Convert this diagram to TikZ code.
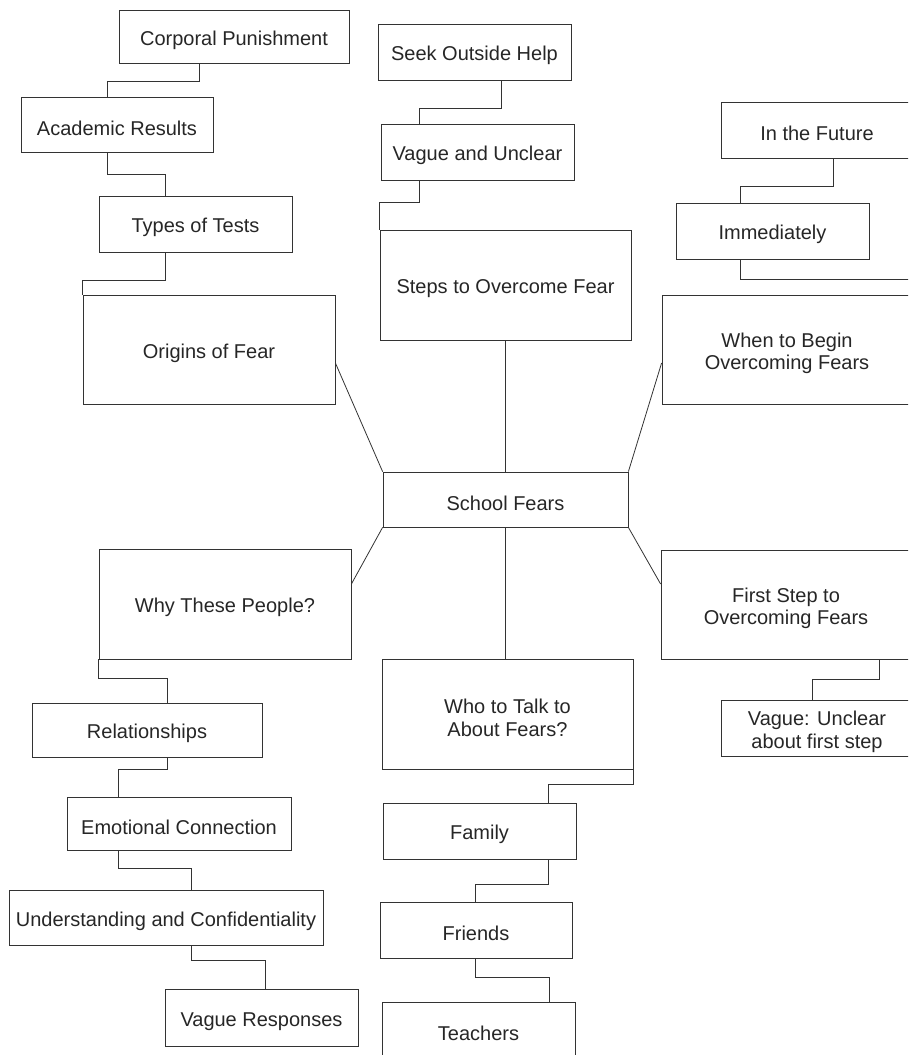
\documentclass[tikz,border=0pt]{standalone}
\usepackage{fontspec}
\setmainfont{Liberation Sans}
\usepackage{tikz}
\usetikzlibrary{positioning}
\newcommand{\boxstrut}{\rule{0pt}{22pt}}

\begin{document}
\begin{tikzpicture}[x=1pt, y=-1pt,
        line width=0.8pt, draw=black!80,
        fearbox/.style={draw=black!80, rectangle, align=center, inner sep=0pt,
            text=black!85, font=\fontsize{20}{22.5}\selectfont,
            execute at begin node={\boxstrut}},
        smallbox/.style={fearbox, minimum width=193pt, minimum height=56pt},
        bigbox/.style={fearbox, minimum width=251pt, minimum height=110pt}]
        \useasboundingbox (0,0) rectangle (908,1055);
        \clip (0,0) rectangle (908,1055);
        % the map is cut off on the right and at the bottom
        \node[smallbox, minimum width=230pt, minimum height=53pt] (corporal) at (234,36.5) {Corporal Punishment};
        \node[smallbox, minimum width=192pt, minimum height=55pt] (academic) at (117,124.5) {Academic Results};
        \node[smallbox] (tests) at (195.5,224) {Types of Tests};
        \node[bigbox, minimum width=252pt, minimum height=109pt] (origins) at (209,349.5) {Origins of Fear};
        \node[smallbox] (seek) at (474.5,52) {Seek Outside Help};
        \node[smallbox] (vague) at (477.5,152) {Vague and Unclear};
        \node[bigbox] (steps) at (505.5,285) {Steps to Overcome Fear};
        \node[smallbox, minimum width=192pt] (future) at (817,130) {In the Future};
        \node[smallbox] (immediately) at (772.5,231) {Immediately};
        % two-line texts need the strut inside the first line
        \node[bigbox, minimum width=250pt, minimum height=109pt] (whenbegin) at (787,349.5) {\boxstrut When to Begin\\Overcoming Fears};
        \node[smallbox, minimum width=245pt, minimum height=55pt] (school) at (505.5,499.5) {School Fears};
        \node[bigbox, minimum width=252pt] (whypeople) at (225,604) {Why These People?};
        \node[smallbox, minimum width=230pt, minimum height=54pt] (relationships) at (147,730) {Relationships};
        \node[smallbox, minimum width=224pt, minimum height=53pt] (emotional) at (179,823.5) {Emotional Connection};
        \node[smallbox, minimum width=314pt, minimum height=55pt] (understanding) at (166,917.5) {Understanding and Confidentiality};
        \node[smallbox, minimum height=57pt] (vagueresp) at (261.5,1017.5) {Vague Responses};
        \node[bigbox] (whotalk) at (507.5,714) {\boxstrut Who to Talk to\\About Fears?};
        \node[bigbox, minimum width=250pt, minimum height=109pt] (firststep) at (786,604.5) {\boxstrut First Step to\\Overcoming Fears};
        \node[smallbox, minimum width=192pt] (vagueunclear) at (817,728) {\boxstrut Vague: Unclear\\about first step};
        \node[smallbox] (family) at (479.5,831) {Family};
        \node[smallbox, minimum width=192pt] (friends) at (476,930) {Friends};
        \node[smallbox] (teachers) at (478.5,1030) {Teachers};

        % spokes from the centre
        \draw ([yshift=-13.5pt]origins.east) -- (school.north west);
        \draw ([yshift=-13.5pt]whenbegin.west) -- (school.north east);
        \draw (school.south west) -- ([yshift=20pt]whypeople.east);
        \draw (school.south east) -- ([yshift=20.5pt]firststep.west);
        \draw (steps.south) -- (school.north);
        \draw (school.south) -- (school.south |- whotalk.north);

        % elbow links, y grows downwards so ++(0,d) goes down
        \draw ([xshift=-35pt]corporal.south) -- ++(0,18) -| ([xshift=-10pt]academic.north);
        \draw ([xshift=-10pt]academic.south) -- ++(0,22) -| ([xshift=-30.5pt]tests.north);
        \draw ([xshift=-30.5pt]tests.south) -- ++(0,28) -| (origins.north west);
        \draw ([xshift=26.5pt]seek.south) -- ++(0,28) -| ([xshift=-58.5pt]vague.north);
        \draw ([xshift=-58.5pt]vague.south) -- ++(0,22) -| (steps.north west);
        \draw ([xshift=16pt]future.south) -- ++(0,28) -| ([xshift=-32.5pt]immediately.north);
        \draw ([xshift=-32.5pt]immediately.south) -- ++(0,20) -| (whenbegin.north east);
        \draw (whypeople.south west) -- ++(0,19) -| ([xshift=20pt]relationships.north);
        \draw ([xshift=20pt]relationships.south) -- ++(0,12) -| ([xshift=-61pt]emotional.north);
        \draw ([xshift=-61pt]emotional.south) -- ++(0,18) -| ([xshift=25pt]understanding.north);
        \draw ([xshift=25pt]understanding.south) -- ++(0,15) -| ([xshift=3.5pt]vagueresp.north);
        \draw ([xshift=93pt]firststep.south) -- ++(0,20) -| ([xshift=-5pt]vagueunclear.north);
        \draw (whotalk.south east) -- ++(0,15) -| ([xshift=68.5pt]family.north);
        \draw ([xshift=68.5pt]family.south) -- ++(0,25) -| ([xshift=-1pt]friends.north);
        \draw ([xshift=-1pt]friends.south) -- ++(0,19) -| ([xshift=70.5pt]teachers.north);
    \end{tikzpicture}
\end{document}
